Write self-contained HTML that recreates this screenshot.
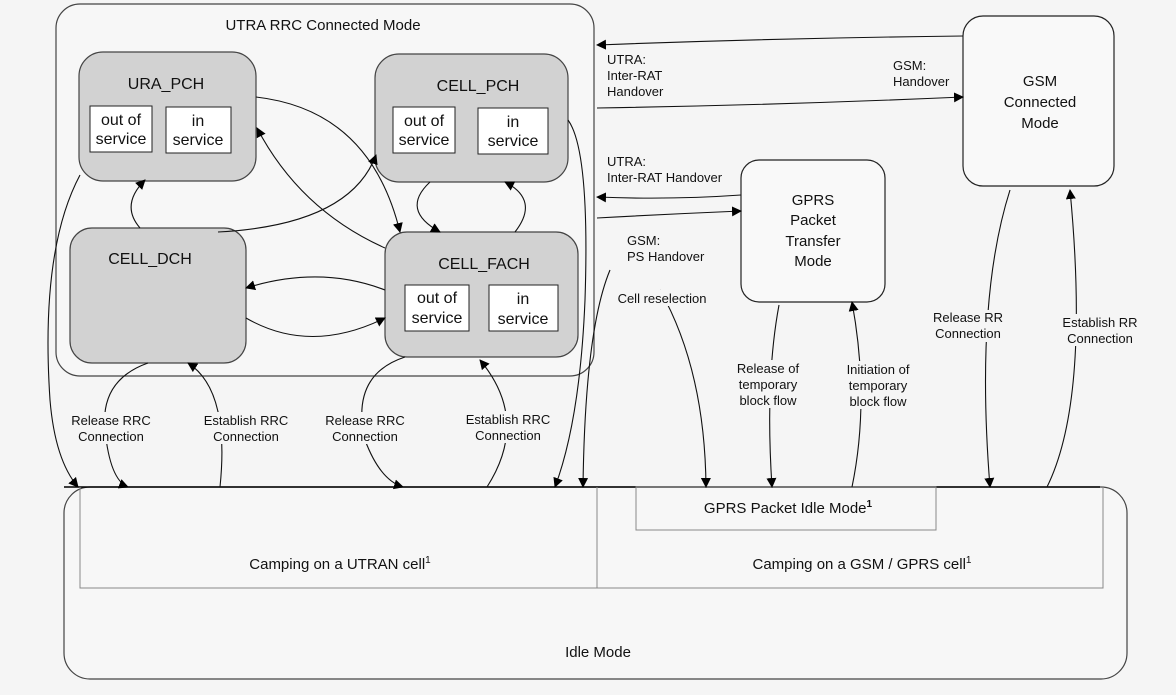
<!DOCTYPE html>
<html><head><meta charset="utf-8"><style>
html,body{margin:0;padding:0;background:#f5f5f5}
svg{display:block}
text{font-family:"Liberation Sans",sans-serif;fill:#111}
</style></head><body>
<svg width="1176" height="695" viewBox="0 0 1176 695" xmlns="http://www.w3.org/2000/svg">
<defs>
<marker id="a" markerWidth="10" markerHeight="10" refX="9" refY="5" orient="auto" markerUnits="userSpaceOnUse">
<path d="M0,0 L10,5 L0,10 z" fill="#000"/></marker>
</defs>
<rect width="1176" height="695" fill="#f5f5f5"/>
<!-- Idle mode -->
<rect x="64" y="487" width="1063" height="192" rx="26" fill="#f7f7f7" stroke="#444" stroke-width="1.2"/>
<line x1="64" y1="487" x2="1100" y2="487" stroke="#000" stroke-width="1.5"/>
<path d="M80,487 V588 H1103 V487" fill="none" stroke="#888" stroke-width="1"/>
<line x1="597" y1="487" x2="597" y2="588" stroke="#888"/>
<rect x="636" y="487" width="300" height="43" fill="none" stroke="#888"/>
<text x="598" y="657" font-size="15" text-anchor="middle">Idle Mode</text>
<text x="340" y="569" font-size="15" text-anchor="middle">Camping on a UTRAN cell<tspan font-size="10" dy="-6">1</tspan></text>
<text x="862" y="569" font-size="15" text-anchor="middle">Camping on a GSM / GPRS cell<tspan font-size="10" dy="-6">1</tspan></text>
<text x="788" y="513" font-size="15" text-anchor="middle">GPRS Packet Idle Mode<tspan font-size="10" dy="-6" font-weight="bold">1</tspan></text>

<!-- UTRA connected -->
<rect x="56" y="4" width="538" height="372" rx="24" fill="#f7f7f7" stroke="#444" stroke-width="1.2"/>
<text x="323" y="30" font-size="15" text-anchor="middle">UTRA RRC Connected Mode</text>

<g stroke="#444" stroke-width="1.2" fill="#d2d2d2">
<rect x="79" y="52" width="177" height="129" rx="24"/>
<rect x="375" y="54" width="193" height="128" rx="24"/>
<rect x="70" y="228" width="176" height="135" rx="22"/>
<rect x="385" y="232" width="193" height="125" rx="22"/>
</g>
<g stroke="#222" stroke-width="1" fill="#fff">
<rect x="90" y="106" width="62" height="46"/><rect x="166" y="107" width="65" height="46"/>
<rect x="393" y="107" width="62" height="46"/><rect x="478" y="108" width="70" height="46"/>
<rect x="405" y="285" width="64" height="46"/><rect x="489" y="285" width="69" height="46"/>
</g>
<g font-size="16" text-anchor="middle">
<text x="166" y="89">URA_PCH</text>
<text x="478" y="91">CELL_PCH</text>
<text x="150" y="264">CELL_DCH</text>
<text x="484" y="269">CELL_FACH</text>
<text x="121" y="125">out of</text><text x="121" y="144">service</text>
<text x="198" y="126">in</text><text x="198" y="145">service</text>
<text x="424" y="126">out of</text><text x="424" y="145">service</text>
<text x="513" y="127">in</text><text x="513" y="146">service</text>
<text x="437" y="303">out of</text><text x="437" y="323">service</text>
<text x="523" y="304">in</text><text x="523" y="324">service</text>
</g>

<!-- GSM & GPRS boxes -->
<rect x="963" y="16" width="151" height="170" rx="20" fill="#f9f9f9" stroke="#222" stroke-width="1.2"/>
<g font-size="15" text-anchor="middle">
<text x="1040" y="86">GSM</text><text x="1040" y="107">Connected</text><text x="1040" y="128">Mode</text>
</g>
<rect x="741" y="160" width="144" height="142" rx="18" fill="#f9f9f9" stroke="#222" stroke-width="1.2"/>
<g font-size="15" text-anchor="middle">
<text x="813" y="205">GPRS</text><text x="813" y="225">Packet</text><text x="813" y="246">Transfer</text><text x="813" y="266">Mode</text>
</g>

<!-- arrows -->
<g fill="none" stroke="#111" stroke-width="1.1" marker-end="url(#a)">
<path d="M963,36 Q780,38 597,45"/>
<path d="M597,108 Q780,105 963,97"/>
<path d="M741,195 Q670,200 597,197"/>
<path d="M597,218 Q670,214 741,211"/>
<path d="M568,120 Q590,150 585,300 Q580,420 555,487"/>
<path d="M610,270 Q585,330 583,487"/>
<path d="M660,290 Q705,370 706,487"/>
<path d="M779,305 Q765,380 772,487"/>
<path d="M852,487 Q870,400 852,302"/>
<path d="M1010,190 Q975,300 990,487"/>
<path d="M1047,487 Q1090,400 1070,190"/>
<path d="M80,175 Q40,250 50,400 Q55,460 78,487"/>
<path d="M148,363 Q100,380 105,430 Q110,480 128,487"/>
<path d="M220,487 Q230,390 188,363"/>
<path d="M405,357 Q350,375 365,440 Q380,480 403,487"/>
<path d="M487,487 Q530,420 480,360"/>
<path d="M256,97 Q370,110 400,232"/>
<path d="M385,248 Q300,210 257,128"/>
<path d="M140,228 Q120,205 145,180"/>
<path d="M218,232 Q350,225 376,155"/>
<path d="M430,182 Q400,210 440,232"/>
<path d="M515,232 Q540,200 505,182"/>
<path d="M385,290 Q320,265 246,288"/>
<path d="M246,318 Q310,355 385,318"/>
</g>

<!-- labels with background -->
<g font-size="13">
<text x="607" y="64">UTRA:</text><text x="607" y="80">Inter-RAT</text><text x="607" y="96">Handover</text>
<text x="893" y="70">GSM:</text><text x="893" y="86">Handover</text>
<rect x="604" y="152" width="126" height="34" fill="#f5f5f5"/>
<text x="607" y="166">UTRA:</text><text x="607" y="182">Inter-RAT Handover</text>
<rect x="624" y="231" width="86" height="32" fill="#f5f5f5"/>
<text x="627" y="245">GSM:</text><text x="627" y="261">PS Handover</text>
<rect x="612" y="290" width="100" height="16" fill="#f5f5f5"/>
<text x="662" y="303" text-anchor="middle">Cell reselection</text>
</g>
<g font-size="13" text-anchor="middle">
<rect x="733" y="360" width="70" height="48" fill="#f5f5f5"/>
<text x="768" y="373">Release of</text><text x="768" y="389">temporary</text><text x="768" y="405">block flow</text>
<rect x="842" y="361" width="72" height="48" fill="#f5f5f5"/>
<text x="878" y="374">Initiation of</text><text x="878" y="390">temporary</text><text x="878" y="406">block flow</text>
<rect x="932" y="310" width="74" height="32" fill="#f5f5f5"/>
<text x="968" y="322">Release RR</text><text x="968" y="338">Connection</text>
<rect x="1060" y="314" width="80" height="32" fill="#f5f5f5"/>
<text x="1100" y="327">Establish RR</text><text x="1100" y="343">Connection</text>
<rect x="68" y="412" width="88" height="32" fill="#f5f5f5"/>
<text x="111" y="425">Release RRC</text><text x="111" y="441">Connection</text>
<rect x="198" y="412" width="96" height="32" fill="#f5f5f5"/>
<text x="246" y="425">Establish RRC</text><text x="246" y="441">Connection</text>
<rect x="321" y="412" width="88" height="32" fill="#f5f5f5"/>
<text x="365" y="425">Release RRC</text><text x="365" y="441">Connection</text>
<rect x="460" y="411" width="96" height="32" fill="#f5f5f5"/>
<text x="508" y="424">Establish RRC</text><text x="508" y="440">Connection</text>
</g>
</svg>
</body></html>
